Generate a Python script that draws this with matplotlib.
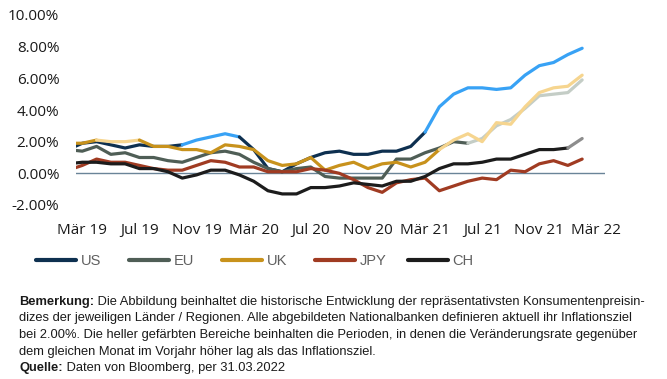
import matplotlib
matplotlib.use("Agg")
import matplotlib.pyplot as plt
from matplotlib.lines import Line2D
import pandas as pd

# ---------------- data (YoY CPI, %, monthly Feb 2019 .. Feb 2022) ----------------
start_month = "2019-02"
us = [1.5, 1.9, 2.0, 1.8, 1.6, 1.8, 1.7, 1.7, 1.8, 2.1, 2.3, 2.5, 2.3, 1.5, 0.3, 0.1, 0.6, 1.0, 1.3,
      1.4, 1.2, 1.2, 1.4, 1.4, 1.7, 2.6, 4.2, 5.0, 5.4, 5.4, 5.3, 5.4, 6.2, 6.8, 7.0, 7.5, 7.9]
eu = [1.5, 1.4, 1.7, 1.2, 1.3, 1.0, 1.0, 0.8, 0.7, 1.0, 1.3, 1.4, 1.2, 0.7, 0.3, 0.1, 0.3, 0.4, -0.2,
      -0.3, -0.3, -0.3, -0.3, 0.9, 0.9, 1.3, 1.6, 2.0, 1.9, 2.2, 3.0, 3.4, 4.1, 4.9, 5.0, 5.1, 5.9]
uk = [1.9, 1.9, 2.1, 2.0, 2.0, 2.1, 1.7, 1.7, 1.5, 1.5, 1.3, 1.8, 1.7, 1.5, 0.8, 0.5, 0.6, 1.0, 0.2,
      0.5, 0.7, 0.3, 0.6, 0.7, 0.4, 0.7, 1.5, 2.1, 2.5, 2.0, 3.2, 3.1, 4.2, 5.1, 5.4, 5.5, 6.2]
jpy = [0.2, 0.5, 0.9, 0.7, 0.7, 0.5, 0.3, 0.2, 0.2, 0.5, 0.8, 0.7, 0.4, 0.4, 0.1, 0.1, 0.1, 0.3, 0.2,
       0.0, -0.4, -0.9, -1.2, -0.6, -0.4, -0.3, -1.1, -0.8, -0.5, -0.3, -0.4, 0.2, 0.1, 0.6, 0.8, 0.5, 0.9]
ch = [0.6, 0.7, 0.7, 0.6, 0.6, 0.3, 0.3, 0.1, -0.3, -0.1, 0.2, 0.2, -0.1, -0.5, -1.1, -1.3, -1.3, -0.9,
      -0.9, -0.8, -0.6, -0.7, -0.8, -0.5, -0.5, -0.2, 0.3, 0.6, 0.6, 0.7, 0.9, 0.9, 1.2, 1.5, 1.5, 1.6, 2.2]

series_names = ["US", "EU", "UK", "JPY", "CH"]
series_values = [us, eu, uk, jpy, ch]

# periods shown in the lighter colour (inflation above the 2% target)
above_target = {
    "US": [("2019-10", "2020-02"), ("2021-03", "2022-02")],
    "EU": [("2021-06", "2022-02")],
    "UK": [("2019-04", "2019-07"), ("2021-04", "2022-02")],
    "JPY": [],
    "CH": [("2022-01", "2022-02")],
}

tick_months = ["2019-03", "2019-07", "2019-11", "2020-03", "2020-07",
               "2020-11", "2021-03", "2021-07", "2021-11", "2022-03"]
tick_labels = ["Mär 19", "Jul 19", "Nov 19", "Mär 20", "Jul 20",
               "Nov 20", "Mär 21", "Jul 21", "Nov 21", "Mär 22"]
y_ticks = [-2, 0, 2, 4, 6, 8, 10]

# ---------------- style ----------------
dark_colors = {"US": "#0e3050", "EU": "#4f5e56", "UK": "#c8921c", "JPY": "#a03b22", "CH": "#1c1c1c"}
light_colors = {"US": "#38a2f5", "EU": "#c4cdc6", "UK": "#f6d58f", "JPY": "#e0a090", "CH": "#8d8d8d"}

tick_font = "Open Sans"
narrow = ["Liberation Sans Narrow", "Liberation Sans", "DejaVu Sans"]


def month_index(m):
    p = pd.Period(m, freq="M") - pd.Period(start_month, freq="M")
    return p.n


fig = plt.figure(figsize=(6.67, 3.79), dpi=100)
ax = fig.add_axes([76 / 667, 1 - 205 / 379, (605 - 76) / 667, (205 - 15) / 379])

ax.axhline(0, color="#6a8498", lw=1.0, zorder=1)

for z, (name, vals) in enumerate(zip(series_names, series_values)):
    n = len(vals)
    x = list(range(n))
    spans = [(month_index(a), month_index(b)) for a, b in above_target[name]]
    flags = [any(s <= i and i + 1 <= e for s, e in spans) for i in range(n - 1)]
    # group consecutive segments of the same colour
    i = 0
    while i < n - 1:
        j = i
        while j + 1 < n - 1 and flags[j + 1] == flags[i]:
            j += 1
        col = light_colors[name] if flags[i] else dark_colors[name]
        ax.plot(x[i:j + 2], vals[i:j + 2], color=col, lw=2.3, zorder=2 + z,
                solid_capstyle="round", solid_joinstyle="round")
        i = j + 1

ax.set_xlim(0.56, 37.6)
ax.set_ylim(-2, 10)
ax.set_yticks(y_ticks)
ax.set_yticklabels([f"{v:.2f}%" for v in y_ticks])
ax.set_xticks([month_index(m) for m in tick_months])
ax.set_xticklabels(tick_labels)
ax.tick_params(axis="both", length=0, pad=12, labelsize=11, labelcolor="#1a1a1a")
ax.tick_params(axis="x", pad=13)
for lab in ax.get_xticklabels() + ax.get_yticklabels():
    lab.set_fontfamily(tick_font)
for sp in ax.spines.values():
    sp.set_visible(False)

# legend: one entry per series, evenly spaced
leg_y = 1 - 260.7 / 379
for k, name in enumerate(series_names):
    h = Line2D([], [], color=dark_colors[name], lw=3.0, solid_capstyle="round")
    lg = fig.legend(handles=[h], labels=[name], loc="center left",
                    bbox_to_anchor=((36 + 93 * k) / 667, leg_y), frameon=False,
                    borderpad=0, borderaxespad=0, handlelength=2.75, handletextpad=0.3,
                    prop={"family": narrow, "size": 10.5})
    for t in lg.get_texts():
        t.set_color("#606060")

# footnote
note_lines = [
    ("Bemerkung:", " Die Abbildung beinhaltet die historische Entwicklung der repräsentativsten Konsumentenpreisin-"),
    ("", "dizes der jeweiligen Länder / Regionen. Alle abgebildeten Nationalbanken definieren aktuell ihr Inflationsziel"),
    ("", "bei 2.00%. Die heller gefärbten Bereiche beinhalten die Perioden, in denen die Veränderungsrate gegenüber"),
    ("", "dem gleichen Monat im Vorjahr höher lag als das Inflationsziel."),
    ("Quelle:", " Daten von Bloomberg, per 31.03.2022"),
]
line_y = [302, 318.5, 335, 351.5, 368]
note_size = 9.3
for (bold, rest), yp in zip(note_lines, line_y):
    yf = 1 - yp / 379
    if bold:
        bt = fig.text(19 / 667, yf, bold, fontweight="bold", family=narrow, fontsize=note_size,
                      color="#1a1a1a", va="center", ha="left")
        ax.annotate(rest, xy=(1, 0.5), xycoords=bt, va="center", ha="left",
                    family=narrow, fontsize=note_size, color="#1a1a1a", annotation_clip=False)
    else:
        fig.text(19 / 667, yf, rest, family=narrow, fontsize=note_size, color="#1a1a1a",
                 va="center", ha="left")

fig.savefig("out.png", dpi=100)
